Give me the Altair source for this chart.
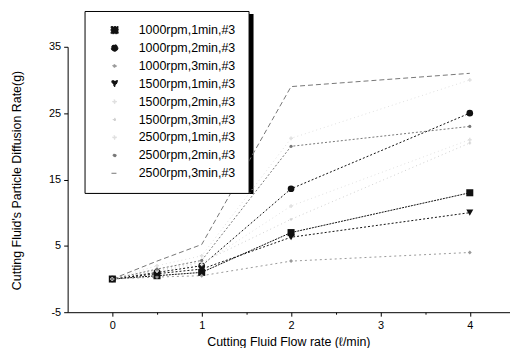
import altair as alt
import pandas as pd

flow = [0, 0.5, 1, 2, 4]
series_names = [
    "1000rpm,1min,#3", "1000rpm,2min,#3", "1000rpm,3min,#3",
    "1500rpm,1min,#3", "1500rpm,2min,#3", "1500rpm,3min,#3",
    "2500rpm,1min,#3", "2500rpm,2min,#3", "2500rpm,3min,#3",
]
s_1000_1 = [0.0, 0.5, 1.0, 7.0, 13.0]
s_1000_2 = [0.0, 1.0, 2.0, 13.6, 25.0]
s_1000_3 = [0.0, 0.3, 0.5, 2.7, 4.0]
s_1500_1 = [0.0, 0.8, 1.5, 6.3, 10.0]
s_1500_2 = [0.0, 1.2, 2.2, 11.0, 21.0]
s_1500_3 = [0.0, 1.3, 2.5, 9.0, 20.5]
s_2500_1 = [0.0, 2.0, 3.5, 21.2, 30.0]
s_2500_2 = [0.0, 1.5, 2.8, 20.0, 23.0]
s_2500_3 = [0.0, 2.7, 5.2, 29.0, 31.0]
all_series = [s_1000_1, s_1000_2, s_1000_3, s_1500_1, s_1500_2,
              s_1500_3, s_2500_1, s_2500_2, s_2500_3]

colors = ["#111111", "#111111", "#999999", "#111111", "#e0e0e0",
          "#d0d0d0", "#e0e0e0", "#777777", "#777777"]
shapes = ["square", "circle", "diamond", "triangle-down", "cross",
          "cross", "cross", "circle", "stroke"]
sizes = [50, 45, 16, 50, 14, 8, 14, 10, 40]
dashes = [[2, 1], [2, 2], [2, 3], [2, 2], [1, 3], [1, 3], [1, 3], [2, 2], [5, 3]]

rows = []
for name, vals in zip(series_names, all_series):
    for xv, yv in zip(flow, vals):
        rows.append({"series": name, "flow": xv, "rate": yv})
df = pd.DataFrame(rows)

font = "Liberation Sans"
xs = alt.Scale(domain=[-0.5, 4.45], nice=False, zero=False)
ys = alt.Scale(domain=[-5, 35], nice=False, zero=False)

x_axis = alt.Axis(
    title="Cutting Fluid Flow rate (ℓ/min)",
    values=[0, 0.5, 1, 1.5, 2, 2.5, 3, 3.5, 4],
    labelExpr="datum.value % 1 == 0 ? toString(datum.value) : ''",
    tickSize={"condition": {"test": "datum.value % 1 != 0", "value": 2}, "value": 4},
    titleX=222, titleY=24,
)
y_axis = alt.Axis(
    title="Cutting Fluid's Particle Diffusion Rate(g)",
    values=[v * 2.5 for v in range(-2, 15)],
    labelExpr="datum.value % 5 == 0 ? toString(datum.value) : ''",
    tickSize={"condition": {"test": "datum.value % 5 != 0", "value": 2}, "value": 4},
    titleX=-44, titleY=134,
)

color_scale = alt.Scale(domain=series_names, range=colors)
legend = alt.Legend(title=None, orient="none", legendX=17, legendY=-36)

lines = alt.Chart(df).mark_line(strokeWidth=1).encode(
    x=alt.X("flow:Q", scale=xs, axis=x_axis),
    y=alt.Y("rate:Q", scale=ys, axis=y_axis),
    color=alt.Color("series:N", scale=color_scale, legend=legend),
    strokeDash=alt.StrokeDash("series:N", scale=alt.Scale(domain=series_names, range=dashes), legend=legend),
    detail="series:N",
)

points = alt.Chart(df).mark_point(filled=True, opacity=1, strokeWidth=1).encode(
    x=alt.X("flow:Q", scale=xs),
    y=alt.Y("rate:Q", scale=ys),
    color=alt.Color("series:N", scale=color_scale, legend=legend),
    shape=alt.Shape("series:N", scale=alt.Scale(domain=series_names, range=shapes), legend=legend),
    size=alt.Size("series:N", scale=alt.Scale(type="ordinal", domain=series_names, range=sizes), legend=legend),
)

shadow = alt.Chart(pd.DataFrame({"k": [0]})).mark_rect(color="black").encode(
    x=alt.value(20), x2=alt.value(187), y=alt.value(-33), y2=alt.value(148)
)

chart = alt.layer(shadow, lines, points).properties(
    width=445, height=267,
    padding={"left": 60, "top": 38, "right": 0, "bottom": 35},
    autosize=alt.AutoSizeParams(type="none"),
).configure_view(stroke=None).configure_axis(
    grid=False, domainColor="black", tickColor="black",
    labelFont=font, labelFontSize=11, labelColor="black", labelPadding=3,
    titleFont=font, titleFontSize=12.5, titleFontWeight="normal", titleColor="black",
).configure_legend(
    fillColor="white", strokeColor="black", padding=13,
    labelFont=font, labelFontSize=12.5, labelColor="black",
    symbolOffset=11, labelOffset=18, rowPadding=5, symbolSize=45,
    symbolStrokeWidth=1,
)

chart.save("out.html", embed_options={"renderer": "svg", "actions": False})
